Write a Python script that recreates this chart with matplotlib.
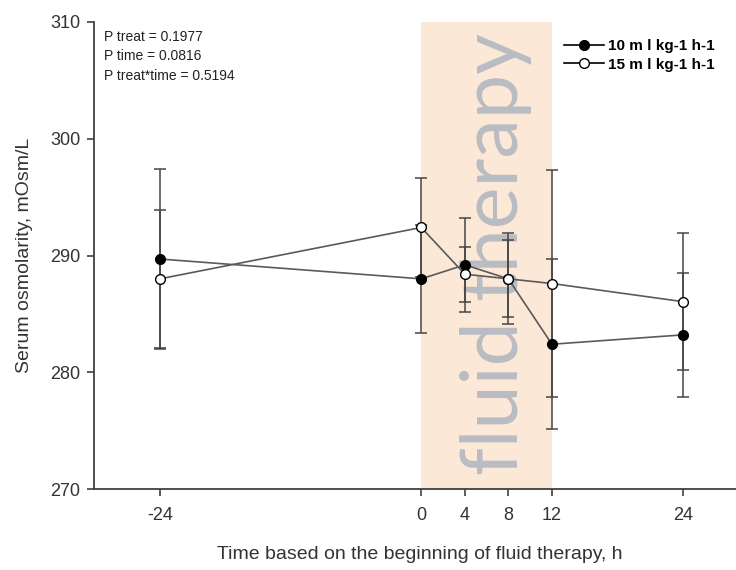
import matplotlib
matplotlib.use("Agg")
import matplotlib.pyplot as plt
from matplotlib.lines import Line2D

plt.rcParams['font.family'] = ['Liberation Sans', 'DejaVu Sans']

# time points (h)
hours = [-24, 0, 4, 8, 12, 24]
tick_labels = ['-24', '0', '4', '8', '12', '24']

# 10 ml/kg/h group
osm_10 = [289.7, 288.0, 289.2, 288.0, 282.4, 283.2]
sd_10 = [7.7, 4.6, 4.0, 3.9, 7.3, 5.3]

# 15 ml/kg/h group
osm_15 = [288.0, 292.4, 288.4, 288.0, 287.6, 286.05]
sd_15 = [5.9, 4.2, 2.35, 3.3, 9.7, 5.85]

p_texts = ['P treat = 0.1977', 'P time = 0.0816', 'P treat*time = 0.5194']
series_labels = ['10 m l kg-1 h-1', '15 m l kg-1 h-1']

LINE_COL = '#5a5a5a'
BAR_COL = '#454545'
AX_COL = '#404040'


def main():
    fig = plt.figure(figsize=(7.36, 5.70), dpi=100)
    ax = fig.add_axes([94 / 736, 81 / 570, 642 / 736, 467 / 570])

    ax.axvspan(0, 12, color='#fce8d6', zorder=0, lw=0)
    ax.text(6.9, 290.1, 'fluid therapy', family='Lato', fontsize=57,
            color='#b9bcc3', rotation=90, ha='center', va='center', zorder=1)

    for y, sd, face in [(osm_10, sd_10, 'black'), (osm_15, sd_15, 'white')]:
        ax.errorbar(hours, y, yerr=sd, fmt='none', ecolor=BAR_COL,
                    elinewidth=1.1, capsize=4.5, capthick=1.1, zorder=2)
        ax.plot(hours, y, color=LINE_COL, lw=1.2, marker='o', markersize=7,
                markerfacecolor=face, markeredgecolor='black',
                markeredgewidth=1.0, zorder=3)

    ax.set_xlim(-30.05, 28.9)
    ax.set_ylim(270, 310)
    ax.set_xticks(hours)
    ax.set_xticklabels(tick_labels)
    ax.set_yticks([270, 280, 290, 300, 310])

    for side in ['top', 'right']:
        ax.spines[side].set_visible(False)
    for side in ['left', 'bottom']:
        ax.spines[side].set_color(AX_COL)
        ax.spines[side].set_linewidth(1.3)
    ax.tick_params(axis='both', colors=AX_COL, labelcolor='#333333',
                   labelsize=13, length=5, width=1.2)
    ax.tick_params(axis='x', pad=8)
    ax.tick_params(axis='y', pad=5)

    ax.set_ylabel('Serum osmolarity, mOsm/L', fontsize=14, color='#333333')
    ax.yaxis.set_label_coords(-0.095, 0.5)
    ax.set_xlabel('Time based on the beginning of fluid therapy, h',
                  fontsize=14, color='#333333')
    ax.xaxis.set_label_coords(0.507, -0.122)

    # statistics text, top left
    for i, t in enumerate(p_texts):
        ypx = [37, 56, 76][i]
        ax.text((104 - 94) / 642, (489 - ypx) / 467, t, fontsize=10,
                color='#222222', va='center', transform=ax.transAxes)

    handles = [
        Line2D([], [], color='black', lw=1.2, marker='o', markersize=7,
               markerfacecolor='black', markeredgecolor='black'),
        Line2D([], [], color='black', lw=1.2, marker='o', markersize=7,
               markerfacecolor='white', markeredgecolor='black'),
    ]
    ax.legend(handles, series_labels, loc='upper left',
              bbox_to_anchor=((564 - 94) / 642, (489 - 39) / 467),
              frameon=False, fontsize=11, handlelength=2.6,
              handletextpad=0.3, labelspacing=0.3, borderpad=0,
              borderaxespad=0, numpoints=1,
              prop={'size': 11, 'weight': 'bold'})

    fig.savefig('out.png', dpi=100)


if __name__ == "__main__":
    main()
